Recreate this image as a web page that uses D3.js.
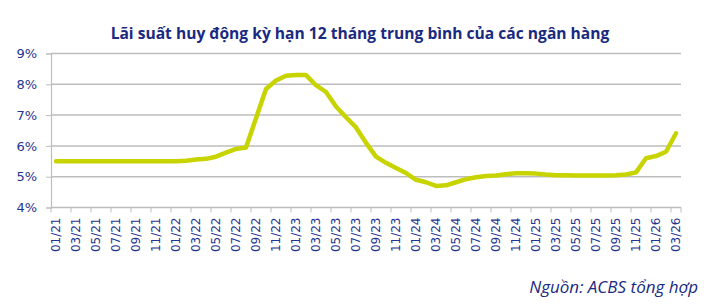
<!DOCTYPE html>
<html>
<head>
<meta charset="utf-8">
<script src="https://cdn.jsdelivr.net/npm/d3@7"></script>
<style>
  body { margin: 0; background: #fff; }
  svg { display: block; }
</style>
</head>
<body>
<svg id="content"></svg>
<script>
// months 01/21 .. 03/26
const months = [];
for (let y = 21; y <= 26; y++) {
    for (let m = 1; m <= 12; m++) {
        if (y === 26 && m > 3) break;
        months.push(String(m).padStart(2, "0") + "/" + y);
    }
}

// average 12-month deposit rate, %
const rates = [
    5.50, 5.50, 5.50, 5.50, 5.50, 5.50, 5.50, 5.50, 5.50, 5.50, 5.50, 5.50,
    5.50, 5.52, 5.56, 5.58, 5.65, 5.78, 5.90, 5.95, 6.90, 7.85, 8.12, 8.28,
    8.30, 8.30, 7.97, 7.75, 7.28, 6.93, 6.60, 6.10, 5.65, 5.45, 5.28, 5.12,
    4.90, 4.82, 4.70, 4.72, 4.82, 4.92, 4.98, 5.02, 5.04, 5.08, 5.11, 5.11,
    5.10, 5.07, 5.05, 5.05, 5.04, 5.04, 5.04, 5.04, 5.05, 5.07, 5.14, 5.60,
    5.67, 5.81, 6.41
];

const yTicks = [4, 5, 6, 7, 8, 9];
const xLabels = months.filter((d, i) => i % 2 === 0);

const title = "Lãi suất huy động kỳ hạn 12 tháng trung bình của các ngân hàng";
const source = "Nguồn: ACBS tổng hợp";

const W = 722, H = 306;
const margin = { top: 53.5, right: 41, bottom: 98.5, left: 51 };
const width = W - margin.left - margin.right,
      height = H - margin.top - margin.bottom;

const navy = "#1f3590";
const svg = d3.select("#content").attr("width", W).attr("height", H);

svg.append("text")
    .attr("x", 360).attr("y", 39)
    .attr("text-anchor", "middle")
    .attr("font-family", "Open Sans").attr("font-weight", "bold")
    .attr("font-size", 15.6).attr("fill", "#1a2a80")
    .text(title);

const g = svg.append("g")
    .attr("transform", `translate(${margin.left},${margin.top})`);

const x = d3.scaleBand().domain(months).range([0, width]);
const y = d3.scaleLinear().domain([4, 9]).range([height, 0]);

// gridlines
g.selectAll(".grid")
    .data(yTicks.filter(d => d > 4))
    .enter().append("line")
      .attr("x1", 0).attr("x2", width)
      .attr("y1", d => y(d)).attr("y2", d => y(d))
      .attr("stroke", "#bdbdbd").attr("stroke-width", 1.5);

// y axis
const yAxis = g.append("g")
    .call(d3.axisLeft(y).tickValues(yTicks).tickFormat(d => d + "%").tickSize(5).tickPadding(9));
yAxis.select(".domain").attr("stroke", "#bdbdbd").attr("stroke-width", 1.2);
yAxis.selectAll(".tick line").attr("stroke", "#bdbdbd");
yAxis.selectAll("text")
    .attr("font-family", "DejaVu Sans").attr("font-size", 13).attr("fill", navy);

// x axis: ticks at every second category boundary
const xAxis = g.append("g").attr("transform", `translate(0,${height})`);
xAxis.append("line")
    .attr("x1", 0).attr("x2", width)
    .attr("stroke", "#bdbdbd").attr("stroke-width", 1.5);
xAxis.selectAll(".tk")
    .data(months.filter((d, i) => i % 2 === 0).concat([null]))
    .enter().append("line")
      .attr("x1", (d, i) => Math.min(i * 2 * x.bandwidth(), width))
      .attr("x2", (d, i) => Math.min(i * 2 * x.bandwidth(), width))
      .attr("y1", 0).attr("y2", 5)
      .attr("stroke", "#bdbdbd");
xAxis.selectAll(".lbl")
    .data(xLabels)
    .enter().append("text")
      .attr("transform", d => `translate(${x(d) + x.bandwidth() / 2},10) rotate(-90)`)
      .attr("text-anchor", "end")
      .attr("dy", "0.36em")
      .attr("font-family", "DejaVu Sans").attr("font-size", 12).attr("fill", navy)
      .text(d => d);

// line
const line = d3.line()
    .x((d, i) => x(months[i]) + x.bandwidth() / 2)
    .y(d => y(d));

g.append("path")
    .datum(rates)
    .attr("fill", "none")
    .attr("stroke", "#c8d400")
    .attr("stroke-width", 4.5)
    .attr("stroke-linejoin", "round")
    .attr("stroke-linecap", "round")
    .attr("d", line);

svg.append("text")
    .attr("x", 698).attr("y", 293)
    .attr("text-anchor", "end")
    .attr("font-family", "Open Sans").attr("font-style", "italic")
    .attr("font-size", 17).attr("fill", "#1a2a80")
    .text(source);
</script>
</body>
</html>
